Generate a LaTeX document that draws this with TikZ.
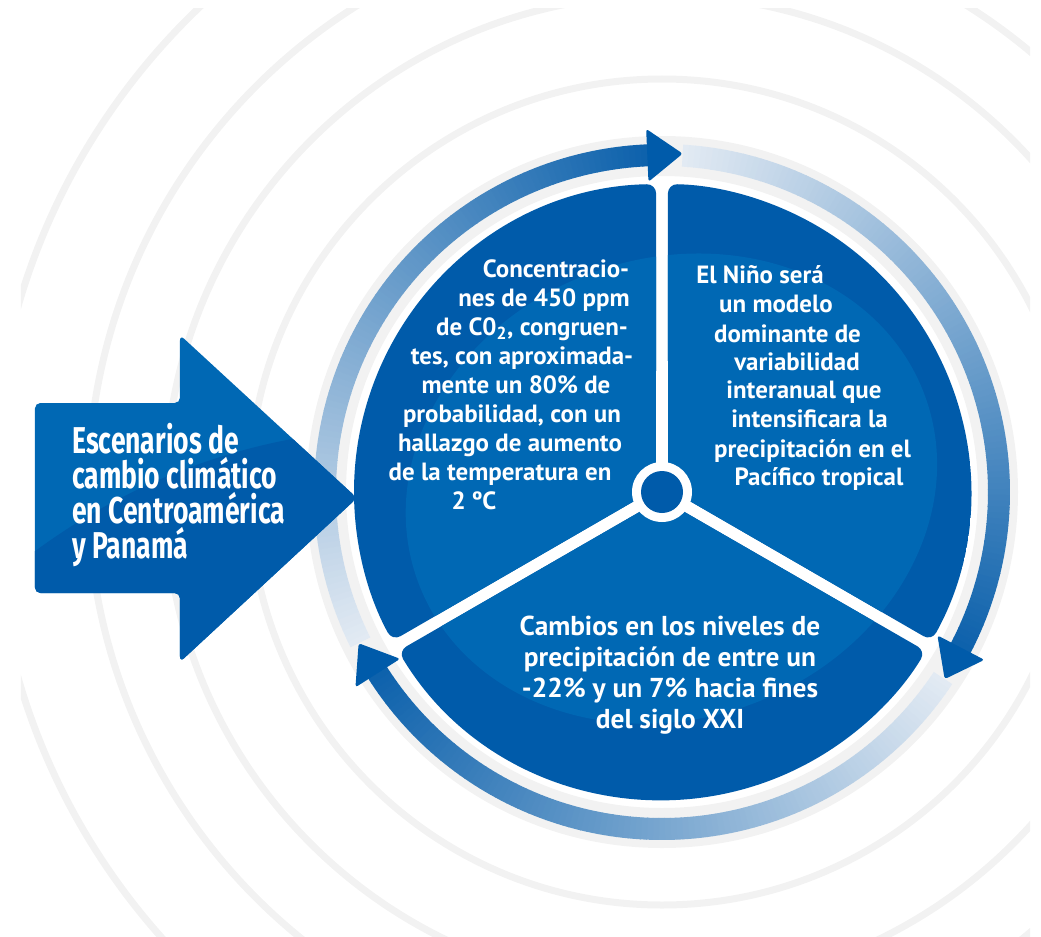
\documentclass[tikz,border=0pt]{standalone}
\usepackage{fontspec}
\setmainfont{PT Sans}
\newfontfamily\narrowfont[FakeStretch=0.71]{Fira Sans}

\definecolor{diskdark}{RGB}{0,91,170}
\definecolor{disklight}{RGB}{0,104,180}
\definecolor{banddark}{RGB}{14,98,172}
\definecolor{bandpale}{RGB}{226,234,243}
\definecolor{ringgray}{RGB}{242,242,242}

\tikzset{
  sectortext/.style={text=white, inner sep=0pt, anchor=base,
    font=\bfseries\fontsize{18.7}{22}\selectfont},
  bottomtext/.style={sectortext, font=\bfseries\fontsize{20.5}{24}\selectfont},
  titletext/.style={text=white, inner sep=0pt, anchor=base west,
    font=\narrowfont\bfseries\fontsize{28}{32}\selectfont},
  bgcircle/.style={draw=ringgray, line width=5.25pt},
  ringhead/.style={fill=diskdark, rounded corners=2pt},
}

\begin{document}
\begin{tikzpicture}[x=0.75pt,y=0.75pt]

  \useasboundingbox (-662,-444) rectangle (379,492);

  % circles in the background
  \begin{scope}
    \clip (-641,-444) rectangle (368,483);
    \foreach \r in {413,497,574,670}
      \draw[bgcircle] (0,0) circle (\r);
  \end{scope}

  % grey ring and the three arrows round the disc
  \fill[ringgray, even odd rule] (0,0) circle (356) (0,0) circle (316);
  \foreach \b in {92.5,212.5,332.5} {
    \foreach \i in {0,...,113} {
      \pgfmathsetmacro\p{100*\i/113}
      \pgfmathsetmacro\s{\b+114-\i}
      \fill[banddark!\p!bandpale] (\s:326)
        arc[start angle=\s, end angle=\s-1.1, radius=326]
        -- ({\s-1.1}:348)
        arc[start angle=\s-1.1, end angle=\s, radius=348] -- cycle;
    }
  }
  \foreach \b in {92.5,212.5,332.5}
    \fill[ringhead] (\b:310.5) -- (\b:363.5) -- ({\b-6}:339) -- cycle;

  % big arrow on the left
  \begin{scope}
    \path[clip, rounded corners=4] (-627,89) -- (-482,89) -- (-482,157)
      -- (-305,-6) -- (-482,-170) -- (-482,-101) -- (-627,-101) -- cycle;
    \fill[disklight] (-662,-444) rectangle (0,492);
    \fill[diskdark] (-252,-568) circle (632);
  \end{scope}

  % the three sectors
  \foreach \a in {90,210,330} {
    \begin{scope}
      \path[clip, rounded corners=7] ({\a+60}:7) -- ({\a+1.1}:308)
        arc[start angle=\a+1.1, end angle=\a+118.9, radius=308] -- cycle;
      \fill[diskdark] (0,0) circle (310);
      \fill[disklight, rotate=20] (10,0) ellipse [x radius=270, y radius=230];
    \end{scope}
  }
  \fill[white] (0,0) circle (30);
  \fill[diskdark] (0,0) circle (21);

  % texts
  \foreach \x/\y/\t [count=\k] in {-590/39/Escenarios de, -590/4/cambio climático,
      -590/-31/en Centroamérica, -590/-66/y Panamá}
    \node[titletext] (title\k) at (\x,\y) {\t};

  \foreach \x/\y/\t [count=\k] in {-106/215/Concentracio-, -118/186/nes de 450 ppm,
      -130/157/{de C0\textsubscript{2}, congruen-}, -140/128/{tes, con aproximada-},
      -146/99/mente un 80\% de, -150/70/{probabilidad, con un},
      -152/41/hallazgo de aumento, -162/12/de la temperatura en, -188/-17/2 ºC}
    \node[sectortext] (co\k) at (\x,\y) {\t};

  \foreach \x/\y/\t [count=\k] in {98/209/El Niño será, 114/180/un modelo,
      125.5/150/dominante de, 135/122/variabilidad, 142/94/interanual que,
      147.5/65/intensificara la, 150.5/35/precipitación en el,
      157/7/Pacífico tropical}
    \node[sectortext] (nino\k) at (\x,\y) {\t};

  \foreach \x/\y/\t [count=\k] in {8/-143/Cambios en los niveles de,
      8/-174/precipitación de entre un, 8/-205/-22\% y un 7\% hacia fines,
      8/-236/del siglo XXI}
    \node[bottomtext] (lluvia\k) at (\x,\y) {\t};

\end{tikzpicture}
\end{document}
